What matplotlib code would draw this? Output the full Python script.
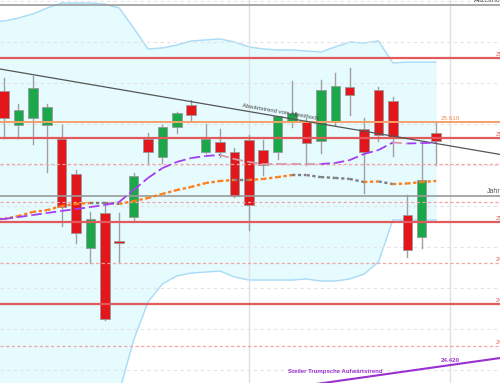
import numpy as np
import matplotlib
matplotlib.use('Agg')
import matplotlib.pyplot as plt
import matplotlib.transforms as mtransforms
from matplotlib.collections import LineCollection
from matplotlib.patches import Rectangle

plt.rcParams['font.family'] = ['Liberation Sans', 'DejaVu Sans']

# Kerzen (Open, High, Low, Close)
opens  = [25.761, 25.595, 25.629, 25.595, 25.527, 25.356, 24.995, 25.166, 25.029, 25.146,
          25.527, 25.439, 25.585, 25.693, 25.463, 25.512, 25.463, 25.522, 25.473, 25.463,
          25.610, 25.610, 25.517, 25.615, 25.780, 25.576, 25.766, 25.712, 25.156, 25.049, 25.556]
highs  = [25.824, 25.698, 25.834, 25.698, 25.595, 25.376, 25.171, 25.200, 25.166, 25.361,
          25.556, 25.595, 25.659, 25.717, 25.600, 25.576, 25.483, 25.546, 25.522, 25.640,
          25.810, 25.629, 25.815, 25.849, 25.873, 25.629, 25.780, 25.732, 25.254, 25.507, 25.610]
lows   = [25.532, 25.532, 25.502, 25.366, 25.102, 25.020, 24.922, 24.644, 24.922, 25.132,
          25.405, 25.410, 25.556, 25.620, 25.458, 25.439, 25.244, 25.083, 25.351, 25.429,
          25.585, 25.400, 25.459, 25.595, 25.644, 25.263, 25.517, 25.444, 24.951, 24.995, 25.400]
closes = [25.629, 25.668, 25.776, 25.683, 25.195, 25.068, 25.137, 24.649, 25.020, 25.346,
          25.463, 25.585, 25.654, 25.644, 25.527, 25.463, 25.249, 25.205, 25.400, 25.639,
          25.654, 25.507, 25.766, 25.785, 25.741, 25.463, 25.546, 25.532, 24.985, 25.327, 25.517]

# Bollinger-Baender
bb_upper = [26.102, 26.117, 26.137, 26.166, 26.190, 26.190, 26.190, 26.185, 26.166, 26.068,
            25.966, 25.971, 25.985, 26.005, 26.010, 26.015, 26.000, 25.976, 25.966, 25.961,
            25.961, 25.956, 25.951, 25.976, 26.000, 25.995, 26.005, 25.898, 25.902, 25.902, 25.902]
bb_lower = [23.900, 23.900, 23.900, 23.920, 23.940, 23.970, 24.000, 24.039, 24.293, 24.546,
            24.732, 24.820, 24.859, 24.873, 24.878, 24.883, 24.854, 24.839, 24.839, 24.839,
            24.839, 24.844, 24.834, 24.834, 24.844, 24.868, 24.927, 25.132, 25.132, 25.132, 25.132]

# gleitende Durchschnitte
ma_short = [25.137, 25.146, 25.156, 25.166, 25.176, 25.185, 25.195, 25.205, 25.220, 25.278,
            25.337, 25.385, 25.415, 25.434, 25.444, 25.449, 25.429, 25.415, 25.405, 25.405,
            25.405, 25.405, 25.405, 25.410, 25.424, 25.454, 25.473, 25.510, 25.505, 25.507, 25.509]
ma_long = [25.137, 25.151, 25.171, 25.180, 25.200, 25.210, 25.215, 25.215, 25.210, 25.224,
           25.239, 25.259, 25.278, 25.293, 25.312, 25.322, 25.327, 25.327, 25.332, 25.341,
           25.351, 25.351, 25.341, 25.337, 25.332, 25.317, 25.320, 25.307, 25.310, 25.317, 25.322]

# Marken
res_levels = [25.922, 25.532, 25.122, 24.722]
res_labels = ['25.922', '25.532', '25.122', '24.722']
dot_levels = [25.407, 25.220, 24.922, 24.517]
dot_labels = ['', '', '24.922', '24.517']
orange_level = 25.610
year_level = 25.249
ath_level = 26.180

down_x = [-1, 35]
down_y = [25.877, 25.445]
up_x = [20, 35]
up_y = [24.315, 24.464]

n = len(opens)
idx = np.arange(n)

fig = plt.figure(figsize=(5, 3.83), dpi=100)
ax = fig.add_axes([0, 0, 1, 1])
ax.set_xlim(-0.28, 34.44)
ax.set_ylim(24.3366, 26.205)
ax.axis('off')

# Band bis zum linken Rand verlaengern
bx = np.r_[-0.5, idx]
bu = np.r_[bb_upper[0], bb_upper]
bl = np.r_[bb_lower[0], bb_lower]
ax.fill_between(bx, bl, bu, color='#e6fbfe', zorder=0)
ax.plot(bx, bu, color='#a9dbf7', lw=1, zorder=1)
ax.plot(bx, bl, color='#a9dbf7', lw=1, zorder=1)

# Raster
for v in np.arange(24.4, 26.21, 0.2):
    ax.axhline(v, color='#e4e4e4', lw=0.8, ls=(0, (3, 3)), zorder=1)
for v in [17, 31]:
    ax.axvline(v, color='#e0e0e0', lw=1, zorder=1)

# Kerzen
w = 0.66
for i in range(n):
    o, h, l, c = opens[i], highs[i], lows[i], closes[i]
    col = '#1aa84a' if c >= o else '#e3161c'
    ax.plot([i, i], [l, h], color='#a0a0a0', lw=1, zorder=2)
    ax.add_patch(Rectangle((i - w / 2, min(o, c)), w, max(abs(c - o), 0.008),
                           facecolor=col, edgecolor='#999999', lw=0.6, zorder=3))

# horizontale Linien
for v in res_levels:
    ax.axhline(v, color='#e25a5c', lw=1.6, zorder=4)
for v in dot_levels:
    ax.axhline(v, color='#f2a3a3', lw=0.9, ls=(0, (2.5, 2)), zorder=4)
ax.axhline(orange_level, color='#f6a06c', lw=1.4, zorder=4)
ax.axhline(year_level, color='#9a9a9a', lw=1.2, zorder=4)
ax.axhline(ath_level, color='#9a9a9a', lw=1.2, zorder=4)

# Trendlinien
ax.plot(down_x, down_y, color='#555555', lw=0.9, zorder=5)
ax.plot(up_x, up_y, color='#9b30d0', lw=1.5, zorder=5)


def colored_ma(vals, up_col, down_col, lw, dash):
    xs = np.r_[-0.5, idx]
    ys = np.r_[vals[0], vals]
    for k in range(len(xs) - 1):
        col = up_col if ys[k + 1] > ys[k] or k == 0 else down_col
        ax.plot(xs[k:k + 2], ys[k:k + 2], color=col, lw=lw, ls=(0, dash),
                zorder=6, solid_capstyle='butt', dash_capstyle='butt')


colored_ma(ma_long, '#ff7d1a', '#808080', 1.7, (1.4, 1.1))
colored_ma(ma_short, '#a43cf0', '#d99aa8', 1.3, (5, 2.2))

# Beschriftungen
tr = mtransforms.blended_transform_factory(ax.transAxes, ax.transData)
for v, t in zip(res_levels, res_labels):
    ax.text(0.992, v + 0.006, t, transform=tr, fontsize=4.5, color='#e25a5c',
            ha='left', va='bottom', clip_on=False)
for v, t in zip(dot_levels, dot_labels):
    if t:
        ax.text(0.992, v + 0.006, t, transform=tr, fontsize=4.5, color='#e25a5c',
                ha='left', va='bottom')
ax.text(31, orange_level + 0.006, '25.610', fontsize=4.5, color='#f08a50',
        ha='center', va='bottom', zorder=7)
ax.text(0.948, ath_level + 0.004, 'Allzeithoch', transform=tr, fontsize=5,
        color='#555555', ha='left', va='bottom')
ax.text(0.974, year_level + 0.006, 'Jahresschluss', transform=tr, fontsize=5,
        color='#555555', ha='left', va='bottom')
ax.text(19.2, 25.659, 'Abwärtstrend vom Allzeithoch', fontsize=4.2, color='#444444',
        rotation=-9.7, ha='center', va='center', rotation_mode='anchor', zorder=7)
ax.text(26.3, 24.395, 'Steiler Trumpsche Aufwärtstrend', fontsize=4.3, color='#9b30d0',
        fontweight='bold', ha='right', va='center', zorder=7)
ax.text(31, 24.432, '24.420', fontsize=4.5, color='#9b30d0', fontweight='bold',
        ha='center', va='bottom', zorder=7)

fig.savefig('out.png', dpi=100)
